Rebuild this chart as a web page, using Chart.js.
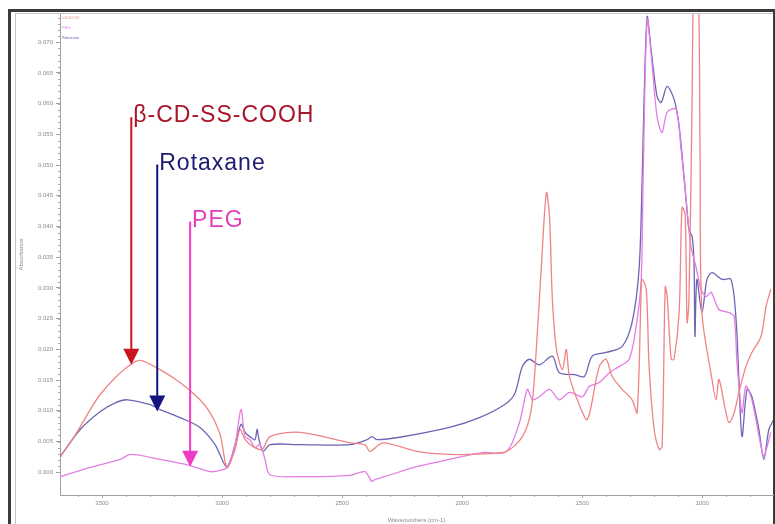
<!DOCTYPE html>
<html>
<head>
<meta charset="utf-8">
<script src="https://cdn.jsdelivr.net/npm/chart.js@4/dist/chart.umd.min.js"></script>
<style>
  html, body { margin: 0; padding: 0; background: #fff; }
  body { width: 775px; height: 524px; position: relative; overflow: hidden; }
  .frame { position: absolute; left: 8px; top: 9px; width: 762px; height: 540px;
           border-left: 3px solid #3a3a3a; border-top: 3px solid #3a3a3a; border-right: 2px solid #3a3a3a; }
  .panel { position: absolute; left: 15px; top: 13px; width: 757px; height: 540px;
           border-left: 1px solid #c4c4c4; border-top: 1px solid #c4c4c4; }
  canvas { position: absolute; left: 0; top: 0; }
</style>
</head>
<body>
<div class="frame"></div>
<div class="panel"></div>
<canvas id="c" width="775" height="524"></canvas>
<script>
// FTIR spectra: wavenumber (cm-1) and absorbance for each sample
const seriesNames = ['β-CD-SS-COOH', 'PEG', 'Rotaxane'];

const cdWavenumbers = [3673,3611,3549,3507,3445,3382,3341,3258,3175,3092,3050,3008,2979,2946,2925,2904,2871,2833,2800,2675,2467,2405,2384,2330,2189,2053,1915,1815,1749,1712,1691,1670,1649,1636,1624,1607,1582,1566,1553,1512,1478,1429,1400,1375,1333,1292,1271,1254,1250,1233,1221,1200,1179,1167,1154,1146,1129,1117,1096,1084,1071,1063,1055,1042,1034,1017,1009,1001,959,942,930,901,888,867,847,818,793,755,734,714];
const cdAbsorbance = [0.0026,0.0061,0.0102,0.0127,0.0154,0.0175,0.0182,0.0167,0.0146,0.0118,0.0097,0.0061,0.0008,0.0037,0.0070,0.0053,0.0042,0.0037,0.0058,0.0065,0.0048,0.0045,0.0034,0.0048,0.0034,0.0029,0.0030,0.0034,0.0058,0.0102,0.0200,0.0335,0.0455,0.0416,0.0281,0.0200,0.0167,0.0200,0.0156,0.0110,0.0086,0.0172,0.0184,0.0156,0.0135,0.0118,0.0097,0.0298,0.0314,0.0298,0.0172,0.0070,0.0037,0.0042,0.0302,0.0286,0.0184,0.0184,0.0260,0.0431,0.0420,0.0244,0.0281,0.0607,0.0800,0.0800,0.0526,0.0260,0.0151,0.0118,0.0151,0.0097,0.0081,0.0097,0.0130,0.0172,0.0195,0.0221,0.0270,0.0298];

const pegWavenumbers = [3673,3549,3424,3382,3258,3133,3050,3000,2979,2946,2921,2904,2884,2863,2842,2821,2800,2675,2467,2405,2376,2363,2322,2189,2053,1915,1815,1761,1728,1707,1678,1636,1595,1553,1499,1470,1429,1387,1346,1304,1275,1254,1246,1229,1208,1188,1167,1146,1109,1088,1067,1047,1026,1005,984,963,930,888,867,855,834,818,793,755,743,714];
const pegAbsorbance = [-0.0007,0.0008,0.0021,0.0029,0.0021,0.0011,0.0001,0.0004,0.0008,0.0045,0.0102,0.0058,0.0053,0.0040,0.0045,0.0021,-0.0004,-0.0007,-0.0005,0.0001,-0.0015,-0.0012,-0.0007,0.0009,0.0021,0.0032,0.0034,0.0081,0.0135,0.0118,0.0123,0.0135,0.0118,0.0130,0.0123,0.0140,0.0146,0.0162,0.0172,0.0184,0.0237,0.0314,0.0477,0.0737,0.0661,0.0579,0.0553,0.0586,0.0591,0.0526,0.0444,0.0368,0.0335,0.0298,0.0286,0.0293,0.0265,0.0260,0.0254,0.0179,0.0097,0.0140,0.0118,0.0042,0.0026,0.0065];

const rotWavenumbers = [3673,3590,3507,3445,3395,3299,3258,3175,3092,3029,2979,2946,2921,2904,2884,2863,2854,2846,2829,2800,2675,2467,2396,2376,2355,2260,2053,1928,1824,1782,1749,1720,1678,1624,1595,1532,1491,1458,1400,1333,1292,1263,1250,1242,1229,1213,1188,1171,1146,1117,1096,1067,1055,1042,1034,1030,1022,1001,980,959,917,880,859,847,834,813,793,764,743,722,701];
const rotAbsorbance = [0.0026,0.0070,0.0099,0.0113,0.0118,0.0110,0.0102,0.0089,0.0073,0.0045,0.0008,0.0045,0.0078,0.0065,0.0058,0.0053,0.0070,0.0053,0.0034,0.0045,0.0045,0.0045,0.0053,0.0058,0.0053,0.0057,0.0073,0.0089,0.0110,0.0127,0.0172,0.0184,0.0175,0.0189,0.0162,0.0159,0.0156,0.0189,0.0195,0.0205,0.0244,0.0330,0.0477,0.0607,0.0742,0.0689,0.0612,0.0602,0.0628,0.0607,0.0563,0.0444,0.0395,0.0384,0.0342,0.0221,0.0314,0.0260,0.0314,0.0325,0.0314,0.0314,0.0249,0.0151,0.0058,0.0135,0.0123,0.0070,0.0021,0.0070,0.0086];

// Axis ranges and ticks
const xTickValues = [3500, 3000, 2500, 2000, 1500, 1000];
const yTickValues = [0.000,0.005,0.010,0.015,0.020,0.025,0.030,0.035,0.040,0.045,0.050,0.055,0.060,0.065,0.070];
const xRange = [705, 3675];
const yRange = [-0.0037, 0.0746];

// Arrow callouts: label, wavenumber of the arrow, absorbance at arrow tip and at arrow top
const calloutLabels = ['β-CD-SS-COOH', 'Rotaxane', 'PEG'];
const calloutWavenumbers = [3378, 3270, 3133];
const calloutTipAbsorbance = [0.0175, 0.0099, 0.0009];
const calloutTopAbsorbance = [0.0578, 0.0501, 0.0408];
const calloutColors = ['#c8141e', '#14147e', '#ee3cc4'];
const calloutTextColors = ['#a8142a', '#1c1c70', '#e43cbc'];

const lineColors = ['#ef8484', '#e47ee4', '#6a66b4'];

const toPoints = (xs, ys) => xs.map((x, i) => ({ x: x, y: ys[i] }));

const minorTicks = {
  id: 'minorTicks',
  afterDraw(chart) {
    const ctx = chart.ctx;
    const xs = chart.scales.x, ys = chart.scales.y;
    ctx.save();
    ctx.strokeStyle = '#a8a8a8';
    ctx.lineWidth = 1;
    ctx.beginPath();
    for (let v = 0; v <= 74; v++) {
      const py = Math.round(ys.getPixelForValue(v / 1000)) + 0.5;
      ctx.moveTo(xs.left - 2, py); ctx.lineTo(xs.left, py);
    }
    for (let w = 800; w <= 3600; w += 100) {
      const px = Math.round(xs.getPixelForValue(w)) + 0.5;
      ctx.moveTo(px, ys.bottom); ctx.lineTo(px, ys.bottom + 2);
    }
    ctx.stroke();
    ctx.restore();
  }
};

const callouts = {
  id: 'callouts',
  afterDraw(chart) {
    const ctx = chart.ctx;
    const xs = chart.scales.x, ys = chart.scales.y;
    ctx.save();
    calloutLabels.forEach((label, i) => {
      const x = xs.getPixelForValue(calloutWavenumbers[i]);
      const tip = ys.getPixelForValue(calloutTipAbsorbance[i]);
      const top = ys.getPixelForValue(calloutTopAbsorbance[i]);
      const headH = 16, headW = 8;
      ctx.strokeStyle = calloutColors[i];
      ctx.fillStyle = calloutColors[i];
      ctx.lineWidth = 2;
      ctx.beginPath();
      ctx.moveTo(x, top);
      ctx.lineTo(x, tip - headH + 2);
      ctx.stroke();
      ctx.beginPath();
      ctx.moveTo(x - headW, tip - headH);
      ctx.lineTo(x + headW, tip - headH);
      ctx.lineTo(x, tip);
      ctx.closePath();
      ctx.fill();
      ctx.fillStyle = calloutTextColors[i];
      ctx.font = '23px "Liberation Sans", Arial, sans-serif';
      ctx.letterSpacing = '1px';
      ctx.textBaseline = 'alphabetic';
      ctx.textAlign = 'left';
      ctx.fillText(label, x + 2, top + 5);
    });
    ctx.restore();
  }
};

const tinyLegend = {
  id: 'tinyLegend',
  afterDraw(chart) {
    const ctx = chart.ctx;
    const left = chart.scales.x.left;
    ctx.save();
    ctx.font = '4px "Liberation Sans", Arial, sans-serif';
    ctx.textBaseline = 'middle';
    const widths = [17, 11, 21];
    chart.data.datasets.forEach((ds, i) => {
      ctx.fillStyle = ds.borderColor;
      ctx.fillText(ds.label, left + 2, 18 + i * 10, widths[i]);
    });
    ctx.restore();
  }
};

new Chart(document.getElementById('c'), {
  type: 'scatter',
  data: {
    datasets: [
      { label: seriesNames[0], data: toPoints(cdWavenumbers, cdAbsorbance), borderColor: lineColors[0] },
      { label: seriesNames[1], data: toPoints(pegWavenumbers, pegAbsorbance), borderColor: lineColors[1] },
      { label: seriesNames[2], data: toPoints(rotWavenumbers, rotAbsorbance), borderColor: lineColors[2] }
    ].map(ds => Object.assign(ds, {
      showLine: true, pointRadius: 0, borderWidth: 1.3, tension: 0.3, fill: false
    }))
  },
  options: {
    responsive: false,
    animation: false,
    events: [],
    layout: { padding: { top: 14, right: 2, bottom: 0, left: 12 } },
    plugins: { legend: { display: false }, tooltip: { enabled: false } },
    scales: {
      x: {
        type: 'linear',
        reverse: true,
        min: xRange[0], max: xRange[1],
        afterBuildTicks: s => { s.ticks = xTickValues.map(v => ({ value: v })); },
        afterFit: s => { s.height = 29; },
        grid: { drawOnChartArea: false, color: '#a0a0a0', tickLength: 3, tickColor: '#a0a0a0' },
        border: { color: '#a0a0a0', width: 1 },
        ticks: { color: '#8a8a8a', font: { size: 6, family: '"Liberation Sans", Arial' }, padding: 2, maxRotation: 0,
                 callback: v => String(v) },
        title: { display: true, text: 'Wavenumbers (cm-1)', color: '#8a8a8a',
                 font: { size: 6, family: '"Liberation Sans", Arial' }, padding: { top: 0, bottom: 0 } }
      },
      y: {
        type: 'linear',
        min: yRange[0], max: yRange[1],
        afterBuildTicks: s => { s.ticks = yTickValues.map(v => ({ value: v })); },
        afterFit: s => { s.width = 48; },
        grid: { drawOnChartArea: false, color: '#a0a0a0', tickLength: 4, tickColor: '#a0a0a0' },
        border: { color: '#a0a0a0', width: 1 },
        ticks: { color: '#8a8a8a', font: { size: 6, family: '"Liberation Sans", Arial' }, padding: 3,
                 callback: v => Math.abs(v).toFixed(3) },
        title: { display: true, text: 'Absorbance', color: '#8a8a8a',
                 font: { size: 6, family: '"Liberation Sans", Arial' }, padding: { top: 6, bottom: 0 } }
      }
    }
  },
  plugins: [minorTicks, callouts, tinyLegend]
});
</script>
</body>
</html>
